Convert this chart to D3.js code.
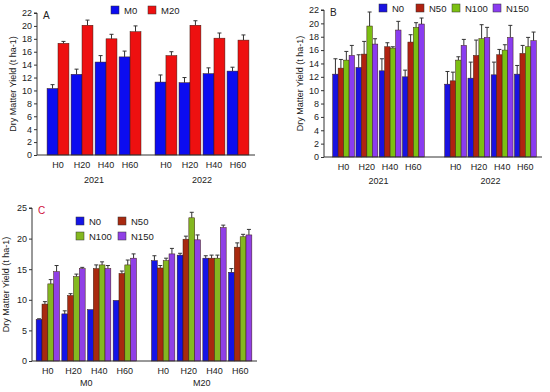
<!DOCTYPE html>
<html>
<head>
<meta charset="utf-8">
<script src="https://cdn.jsdelivr.net/npm/d3@7"></script>
<style>
  body { margin: 0; background: #fff; }
  svg { font-family: "Liberation Sans", Arial, sans-serif; }
</style>
</head>
<body>
<svg class="chart" width="550" height="392"></svg>
<script>
const svg = d3.select(".chart");

// shared categories
const hLevels = ["H0", "H20", "H40", "H60"];
const years = ["2021", "2022"];
const manure = ["M0", "M20"];
const nLevels = ["N0", "N50", "N100", "N150"];

// panel A: manure x year x H  (means, se)
const aM0 = [10.3, 12.5, 14.4, 15.2, 11.3, 11.2, 12.6, 13.0];
const aM0err = [0.6, 0.8, 1.0, 0.9, 1.1, 0.8, 0.9, 0.6];
const aM20 = [17.3, 20.1, 18.0, 19.1, 15.4, 20.1, 18.1, 17.8];
const aM20err = [0.3, 0.8, 0.7, 0.9, 0.6, 0.7, 0.8, 0.8];

// panel B: N x year x H
const bN0 = [12.4, 13.4, 12.9, 12.0, 10.9, 11.8, 12.3, 12.4];
const bN0err = [2.3, 1.9, 1.8, 1.0, 1.9, 2.4, 1.9, 1.3];
const bN50 = [13.3, 15.4, 16.5, 17.2, 11.4, 15.2, 15.3, 15.5];
const bN50err = [1.3, 1.9, 0.6, 1.1, 1.3, 2.3, 0.8, 1.2];
const bN100 = [14.5, 19.6, 16.3, 19.4, 14.5, 17.7, 16.0, 16.5];
const bN100err = [1.3, 2.1, 0.2, 0.7, 0.5, 2.1, 0.8, 1.4];
const bN150 = [15.2, 16.9, 19.0, 19.9, 16.7, 17.9, 17.9, 17.4];
const bN150err = [1.5, 0.8, 1.3, 0.9, 0.9, 1.5, 1.8, 1.3];

// panel C: N x manure x H
const cN0 = [6.8, 7.7, 8.4, 9.9, 16.4, 17.3, 16.8, 14.5];
const cN0err = [0.1, 0.5, 0.0, 0.0, 0.8, 0.3, 0.4, 0.6];
const cN50 = [9.3, 10.7, 15.1, 14.3, 15.2, 19.9, 16.8, 18.6];
const cN50err = [0.4, 0.3, 0.6, 0.4, 0.4, 0.5, 0.5, 0.7];
const cN100 = [12.6, 13.8, 15.7, 15.7, 16.4, 23.4, 16.8, 20.3];
const cN100err = [0.7, 0.4, 0.5, 0.8, 0.4, 0.9, 0.5, 0.4];
const cN150 = [14.6, 15.1, 15.1, 16.8, 17.5, 19.8, 21.8, 20.6];
const cN150err = [1.0, 0.2, 0.5, 0.7, 0.9, 0.8, 0.4, 0.9];

const yTitle = "Dry Matter Yield (t ha-1)";

function buildRows(groups, seriesNames, values, errors) {
  const rows = [];
  groups.forEach((g, gi) => {
    hLevels.forEach((h, hi) => {
      seriesNames.forEach((s, si) => {
        const k = gi * hLevels.length + hi;
        rows.push({ g, h, s, v: values[si][k], e: errors[si][k] });
      });
    });
  });
  return rows;
}

function drawPanel(opt) {
  const g = svg.append("g");
  const y = d3.scaleLinear().domain([0, opt.yMax]).range([opt.y0, opt.y1]);
  const xo = d3.scaleBand().domain(opt.groups).range(opt.xGroups).paddingInner(opt.gapPad);
  const xh = d3.scaleBand().domain(hLevels).range([0, xo.bandwidth()]).paddingInner(opt.hPad).paddingOuter(opt.hPad / 2);
  const xs = d3.scaleBand().domain(opt.series).range([0, xh.bandwidth()]);
  const color = d3.scaleOrdinal().domain(opt.series).range(opt.colors);

  const rows = buildRows(opt.groups, opt.series, opt.values, opt.errors);
  const xPos = d => xo(d.g) + xh(d.h) + xs(d.s);

  // error bars (upper only)
  const eb = g.selectAll(".eb").data(rows.filter(d => d.e > 0)).join("g");
  eb.append("line")
    .attr("x1", d => xPos(d) + xs.bandwidth() / 2)
    .attr("x2", d => xPos(d) + xs.bandwidth() / 2)
    .attr("y1", d => y(d.v))
    .attr("y2", d => y(d.v + d.e))
    .attr("stroke", "#333").attr("stroke-width", 1);
  eb.append("line")
    .attr("x1", d => xPos(d) + xs.bandwidth() / 2 - 2)
    .attr("x2", d => xPos(d) + xs.bandwidth() / 2 + 2)
    .attr("y1", d => y(d.v + d.e))
    .attr("y2", d => y(d.v + d.e))
    .attr("stroke", "#333").attr("stroke-width", 1);

  g.selectAll(".bar").data(rows).join("rect")
    .attr("x", d => xPos(d))
    .attr("y", d => y(d.v))
    .attr("width", xs.bandwidth())
    .attr("height", d => y(0) - y(d.v))
    .attr("fill", d => color(d.s))
    .attr("stroke", "#3a1a10").attr("stroke-width", 0.5);

  // y axis
  const ya = g.append("g")
    .attr("transform", `translate(${opt.xAxis},0)`)
    .call(d3.axisLeft(y).tickValues(d3.range(0, opt.yMax + 0.1, opt.yStep)).tickSize(3).tickPadding(2));
  ya.selectAll("text").attr("font-size", 9).attr("fill", "#222");
  ya.selectAll("line, path").attr("stroke", "#333");
  ya.select(".domain").attr("d", `M-3,${opt.y1}H0V${opt.y0}`);

  // x axis line
  g.append("line")
    .attr("x1", opt.xAxis).attr("x2", opt.xEnd)
    .attr("y1", y(0)).attr("y2", y(0))
    .attr("stroke", "#333");

  // H tick labels
  const ticks = [];
  opt.groups.forEach(gr => hLevels.forEach(h => ticks.push({ gr, h })));
  g.selectAll(".hl").data(ticks).join("text")
    .attr("x", d => xo(d.gr) + xh(d.h) + xh.bandwidth() / 2)
    .attr("y", y(0) + 13)
    .attr("text-anchor", "middle").attr("font-size", 9).attr("fill", "#222")
    .text(d => d.h);

  // group labels
  g.selectAll(".gl").data(opt.groups).join("text")
    .attr("x", d => xo(d) + xo.bandwidth() / 2)
    .attr("y", y(0) + opt.groupDy)
    .attr("text-anchor", "middle").attr("font-size", 9).attr("fill", "#222")
    .text(d => d);

  // y title
  g.append("text")
    .attr("transform", `translate(${opt.titleX},${(opt.y0 + opt.y1) / 2}) rotate(-90)`)
    .attr("text-anchor", "middle").attr("font-size", 9).attr("fill", "#222")
    .text(yTitle);

  // panel letter
  g.append("text")
    .attr("x", opt.xAxis + 6).attr("y", opt.y1 + 6)
    .attr("font-size", 10).attr("fill", opt.letterColor || "#222")
    .text(opt.letter);

  // legend
  const lg = g.selectAll(".lg").data(opt.series).join("g")
    .attr("transform", (d, i) => `translate(${opt.legend[i][0]},${opt.legend[i][1]})`);
  lg.append("rect")
    .attr("width", 8).attr("height", 8).attr("y", -4)
    .attr("fill", d => color(d)).attr("stroke", "#333").attr("stroke-width", 0.5);
  lg.append("text")
    .attr("x", 13).attr("y", 3.5)
    .attr("font-size", 9.5).attr("fill", "#222")
    .text(d => d);
}

drawPanel({
  letter: "A",
  groups: years,
  series: manure,
  values: [aM0, aM20],
  errors: [aM0err, aM20err],
  colors: ["#0c0cf0", "#ee1010"],
  yMax: 22, yStep: 2,
  y0: 155, y1: 13,
  xAxis: 37, xEnd: 255,
  xGroups: [46, 250], gapPad: 0.11, hPad: 0.09,
  groupDy: 28, titleX: 16,
  legend: [[111, 10], [148, 10]]
});

drawPanel({
  letter: "B",
  groups: years,
  series: nLevels,
  values: [bN0, bN50, bN100, bN150],
  errors: [bN0err, bN50err, bN100err, bN150err],
  colors: ["#1a12e0", "#b02210", "#7cc012", "#8a3cf0"],
  yMax: 22, yStep: 2,
  y0: 157, y1: 10,
  xAxis: 324, xEnd: 542,
  xGroups: [332, 537], gapPad: 0.17, hPad: 0.06,
  groupDy: 27, titleX: 303,
  legend: [[379, 8], [416, 8], [452, 8], [493, 8]]
});

drawPanel({
  letter: "C",
  letterColor: "#d0103a",
  groups: manure,
  series: nLevels,
  values: [cN0, cN50, cN100, cN150],
  errors: [cN0err, cN50err, cN100err, cN150err],
  colors: ["#1414e6", "#a82a10", "#84b820", "#9040e6"],
  yMax: 25, yStep: 5,
  y0: 361, y1: 208,
  xAxis: 32, xEnd: 257,
  xGroups: [35, 253], gapPad: 0.11, hPad: 0.09,
  groupDy: 25, titleX: 9,
  legend: [[76, 221], [118, 221], [76, 236], [118, 236]]
});
</script>
</body>
</html>
